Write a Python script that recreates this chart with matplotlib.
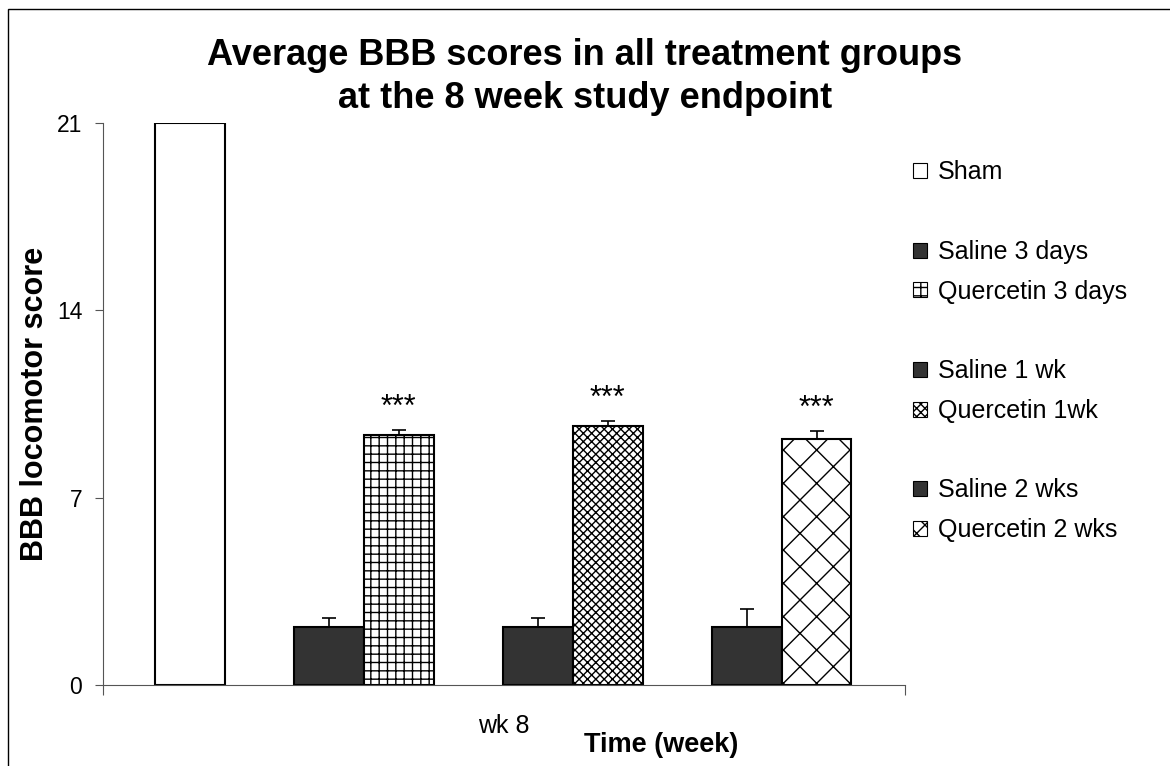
import matplotlib
matplotlib.use("Agg")
import matplotlib.pyplot as plt
from matplotlib.patches import Rectangle, Patch

plt.rcParams['font.family'] = ['Liberation Sans', 'DejaVu Sans']
plt.rcParams['hatch.linewidth'] = 1.0

# data (week 8)
groups = ["Sham", "Saline 3 days", "Quercetin 3 days", "Saline 1 wk",
          "Quercetin 1wk", "Saline 2 wks", "Quercetin 2 wks"]
means = [21.0, 2.17, 9.34, 2.17, 9.68, 2.17, 9.19]
errs = [0.0, 0.33, 0.2, 0.33, 0.2, 0.67, 0.3]
stars = ["", "", "***", "", "***", "", "***"]
category = "wk 8"

# bar slots: Excel chart used blank series between the pairs
slots = [0, 2, 3, 5, 6, 8, 9]
colors = ["white", "#333333", "white", "#333333", "white", "#333333", "white"]
hatches = [None, None, "++", None, "xxxx", None, "x"]
legend_hatches = [None, None, "++", None, "xxxx", None, "xx"]

fig = plt.figure(figsize=(11.7, 7.66), dpi=100)
ax = fig.add_axes([0.088, 0.1057, 0.6855, 0.7337])

for i in range(len(groups)):
    ax.bar(slots[i], means[i], width=1.0, color=colors[i], edgecolor="black",
           linewidth=1.5, hatch=hatches[i], zorder=2)
    if errs[i] > 0:
        ax.errorbar(slots[i], means[i], yerr=[[0], [errs[i]]], fmt="none",
                    ecolor="black", elinewidth=1.2, capsize=5, capthick=1.2, zorder=3)
    if stars[i]:
        ax.annotate(stars[i], (slots[i], means[i] + errs[i]), xytext=(0, 5),
                    textcoords="offset points", ha="center", va="bottom",
                    fontsize=22)

xmin, xmax = -1.25, 10.27
ax.set_xlim(xmin, xmax)
ax.set_ylim(0, 21)
ax.set_yticks([0, 7, 14, 21])
ax.tick_params(axis="y", direction="out", length=6, width=0.8, color="#555555",
               labelsize=16.5, pad=9)
ax.set_xticks([(xmin + xmax) / 2])
ax.set_xticklabels([category], fontsize=18)
ax.tick_params(axis="x", which="major", length=0, pad=21)
ax.set_xticks([xmin, xmax], minor=True)
ax.tick_params(axis="x", which="minor", direction="out", length=7, width=0.8,
               color="#555555")

for s in ["top", "right"]:
    ax.spines[s].set_visible(False)
for s in ["left", "bottom"]:
    ax.spines[s].set_color("#555555")
    ax.spines[s].set_linewidth(0.8)

ax.set_ylabel("BBB locomotor score", fontsize=22, fontweight="bold")
ax.yaxis.set_label_coords(-0.066, 0.5)
fig.text(0.565, 0.027, "Time (week)", fontsize=19.5, fontweight="bold",
         ha="center", va="center")
fig.text(0.5, 0.899,
         "Average BBB scores in all treatment groups\nat the 8 week study endpoint",
         fontsize=26, fontweight="bold", ha="center", va="center", linespacing=1.3)

# legend with blank rows like the original
handles = []
labels = []
order = [0, None, 1, 2, None, 3, 4, None, 5, 6]
for k in order:
    if k is None:
        handles.append(Patch(facecolor="none", edgecolor="none"))
        labels.append("")
    else:
        handles.append(Patch(facecolor=colors[k], edgecolor="black",
                             linewidth=0.8, hatch=legend_hatches[k]))
        labels.append(groups[k])
fig.legend(handles, labels, loc="upper left", bbox_to_anchor=(0.761, 0.82),
           frameon=False, fontsize=18, handlelength=0.55, handleheight=0.55,
           handletextpad=0.45, labelspacing=0.63, borderpad=0.4)

fig.add_artist(Rectangle((8 / 1170, -0.2), 1.2, 1.2 - 9 / 766,
                         transform=fig.transFigure, fill=False,
                         edgecolor="black", linewidth=1.0))

fig.savefig("out.png", dpi=100)
